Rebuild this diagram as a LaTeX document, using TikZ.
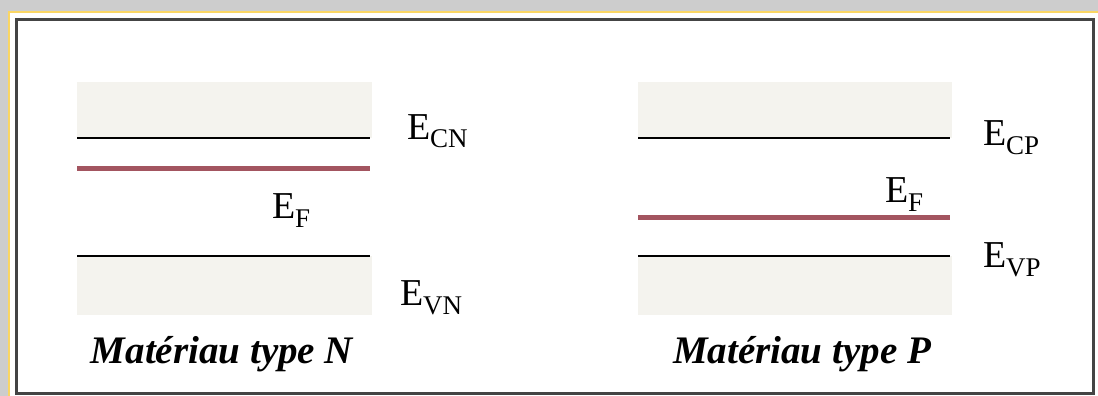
\documentclass[tikz,border=0pt]{standalone}
\usepackage{fontspec}
\setmainfont{Liberation Serif}
\definecolor{bandgray}{RGB}{244,243,238}
\definecolor{fermired}{RGB}{163,85,96}
\definecolor{framegray}{RGB}{68,68,68}
\definecolor{glowyellow}{RGB}{250,214,100}
\definecolor{shadowgray}{RGB}{205,205,205}
\newcommand{\Elab}[1]{\fontsize{38}{40}\selectfont E\raisebox{-9pt}{\fontsize{27}{28}\selectfont #1}}
\tikzset{
  band/.style={fill=bandgray, draw=none},
  lvl/.style={draw=black, line width=2pt},
  fermi/.style={draw=fermired, line width=5pt},
  lbl/.style={anchor=base west, inner sep=0pt, outer sep=0pt},
  titletext/.style={anchor=base, inner sep=0pt, font=\fontsize{39}{42}\selectfont\bfseries\itshape},
}
\begin{document}
\begin{tikzpicture}[x=1pt, y=-1pt]
\useasboundingbox (0,0) rectangle (1098,396);
% background, glow and frame
\fill[shadowgray] (0,0) rectangle (1098,396);
\fill[white, draw=glowyellow, line width=1.5pt] (9,12) rectangle (1110,410);
\draw[framegray, line width=3pt] (16,20) rectangle (1093,393);
% --- type N ---
\fill[band] (77,82) rectangle (372,138);
\fill[band] (77,256) rectangle (372,315);
\coordinate (cnL) at (77,138); \coordinate (cnR) at (370,138);
\coordinate (fnL) at (77,168); \coordinate (fnR) at (370,168);
\coordinate (vnL) at (77,256); \coordinate (vnR) at (370,256);
\draw[lvl] (cnL) -- (cnR);
\draw[fermi] (fnL) -- (fnR);
\draw[lvl] (vnL) -- (vnR);
\node[lbl] (ECN) at (407,139) {\Elab{CN}};
\node[lbl] (EFN) at (272,218) {\Elab{F}};
\node[lbl] (EVN) at (400,305) {\Elab{VN}};
\node[titletext] (TN) at (222,363) {Matériau type N};
% --- type P ---
\fill[band] (638,82) rectangle (952,138);
\fill[band] (638,256) rectangle (952,315);
\coordinate (cpL) at (638,138); \coordinate (cpR) at (950,138);
\coordinate (fpL) at (638,217); \coordinate (fpR) at (950,217);
\coordinate (vpL) at (638,256); \coordinate (vpR) at (950,256);
\draw[lvl] (cpL) -- (cpR);
\draw[fermi] (fpL) -- (fpR);
\draw[lvl] (vpL) -- (vpR);
\node[lbl] (ECP) at (983,145) {\Elab{CP}};
\node[lbl] (EFP) at (885,202) {\Elab{F}};
\node[lbl] (EVP) at (983,267) {\Elab{VP}};
\node[titletext] (TP) at (802,363) {Matériau type P};
\end{tikzpicture}
\end{document}
